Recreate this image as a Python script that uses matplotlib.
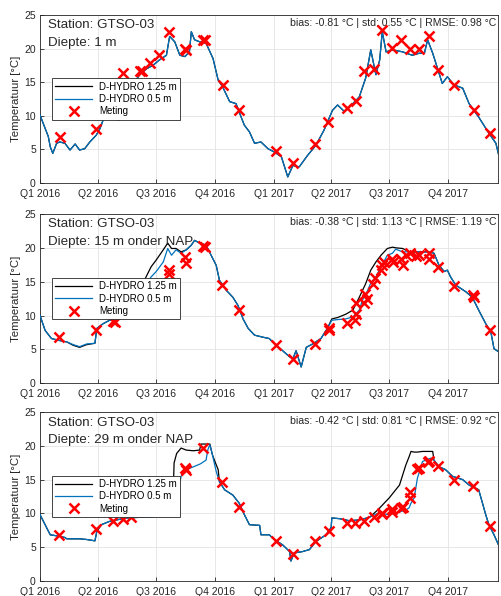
import numpy as np
import pandas as pd
import matplotlib
matplotlib.use('Agg')
import matplotlib.pyplot as plt

plt.rcParams['font.family'] = ['Liberation Sans', 'DejaVu Sans']

START = pd.Timestamp('2016-01-01')

quarter_ticks = ['2016-01-01', '2016-04-01', '2016-07-01', '2016-10-01',
                 '2017-01-01', '2017-04-01', '2017-07-01', '2017-10-01']
quarter_labels = ['Q1 2016', 'Q2 2016', 'Q3 2016', 'Q4 2016',
                  'Q1 2017', 'Q2 2017', 'Q3 2017', 'Q4 2017']

station = 'GTSO-03'
depths = ['1 m', '15 m onder NAP', '29 m onder NAP']
stats = [(-0.81, 0.55, 0.98), (-0.38, 1.13, 1.19), (-0.42, 0.81, 0.92)]

# --- panel 1: 1 m (both model runs overlap) ---
p1_days = [0, 13, 16, 20, 26, 31, 39, 47, 55, 62, 70, 78, 88, 94, 99, 109, 123, 135, 143,
           156, 167, 177, 187, 198, 203, 211, 219, 227, 234, 237, 242, 250, 260, 271, 279,
           286, 297, 307, 315, 320, 328, 336, 346, 357, 367, 378, 388, 396, 406, 419, 432,
           445, 458, 466, 477, 490, 500, 510, 518, 526, 532, 536, 542, 552, 568, 583, 594,
           602, 607, 615, 625, 630, 638, 648, 662, 672, 687, 703, 714, 719]
p1_05 = [10.1, 6.9, 5.4, 4.4, 5.9, 6.1, 5.9, 4.9, 5.8, 4.9, 5.1, 6.1, 7.1, 8.1, 9.4, 10.1,
         9.3, 10.8, 14.3, 16.1, 17.0, 17.5, 18.3, 19.0, 21.8, 21.0, 19.0, 18.8, 19.5, 22.5,
         21.3, 21.0, 20.8, 18.5, 15.3, 14.3, 12.1, 11.8, 9.8, 8.6, 7.6, 5.9, 6.1, 5.1, 4.6,
         3.9, 0.9, 2.6, 2.4, 4.1, 5.6, 7.9, 10.8, 11.6, 10.6, 11.8, 12.8, 15.6, 19.8, 16.1,
         18.3, 22.5, 19.5, 19.8, 19.5, 19.0, 19.3, 19.3, 21.3, 19.3, 16.3, 14.8, 15.8, 14.6,
         14.1, 11.8, 9.8, 7.4, 5.9, 3.9]
p1_125 = list(p1_05)
p1_meas_days = [31, 88, 130, 156, 159, 173, 187, 202, 227, 229, 255, 258, 286, 312,
                369, 396, 430, 451, 480, 495, 508, 523, 536, 551, 566, 580, 593, 609,
                623, 648, 680, 704]
p1_meas = [6.9, 8.0, 16.4, 16.6, 16.7, 17.8, 19.1, 22.4, 19.9, 19.8, 21.3, 21.2, 14.6, 10.8,
           4.8, 2.9, 5.8, 9.0, 11.2, 12.2, 16.7, 17.0, 22.8, 20.1, 21.3, 20.0, 20.0, 21.9,
           16.8, 14.5, 10.9, 7.5]

# --- panel 2: 15 m onder NAP ---
p2_days = [0, 8, 18, 31, 42, 52, 62, 73, 86, 89, 99, 109, 125, 140, 160, 165, 174, 182,
           193, 200, 206, 213, 221, 229, 237, 242, 250, 260, 268, 276, 281, 292, 302, 310,
           318, 326, 336, 349, 359, 370, 380, 391, 396, 401, 409, 417, 427, 440, 450, 457,
           466, 479, 490, 500, 505, 510, 518, 526, 534, 544, 552, 557, 568, 578, 589, 599,
           609, 617, 625, 633, 638, 643, 651, 667, 677, 687, 698, 706, 711, 719]
p2_05 = [10.0, 7.8, 6.6, 6.3, 6.1, 5.7, 5.4, 5.8, 5.9, 8.1, 8.8, 9.3, 9.5, 10.5, 12.5,
         14.5, 15.7, 16.5, 17.9, 19.9, 18.9, 19.7, 19.2, 19.7, 20.4, 21.1, 20.7, 20.4, 18.9,
         17.4, 15.2, 13.7, 12.7, 11.5, 9.5, 8.1, 7.1, 6.8, 6.6, 5.6, 4.8, 3.9, 3.6, 4.8, 2.4,
         5.3, 5.8, 6.6, 8.1, 9.3, 9.4, 9.5, 9.8, 10.8, 12.3, 13.0, 14.8, 15.7, 17.2, 18.9,
         19.2, 19.8, 19.4, 19.4, 19.4, 19.4, 19.4, 19.2, 17.4, 16.5, 16.7, 15.7, 14.5, 13.5,
         12.7, 10.8, 8.8, 7.6, 5.1, 4.6]
p2_125 = [10.0, 7.8, 6.6, 6.3, 6.1, 5.6, 5.3, 5.7, 5.9, 8.1, 8.8, 9.3, 9.5, 10.5, 13.0,
          15.5, 17.2, 18.2, 19.7, 20.7, 19.9, 19.9, 19.4, 19.7, 20.4, 21.1, 20.7, 20.4, 18.9,
          17.4, 15.2, 13.7, 12.7, 11.5, 9.5, 8.1, 7.1, 6.8, 6.6, 5.6, 4.8, 3.9, 3.6, 4.8, 2.4,
          5.3, 5.8, 6.6, 8.1, 9.5, 9.7, 10.2, 10.8, 12.7, 13.7, 14.7, 16.7, 17.9, 18.9, 19.9,
          20.1, 20.0, 19.9, 19.4, 19.4, 19.4, 19.4, 19.2, 17.4, 16.5, 16.7, 15.7, 14.5, 13.5,
          12.7, 10.8, 8.8, 7.6, 5.1, 4.6]
p2_meas_days = [30, 88, 115, 117, 202, 202, 227, 228, 255, 258, 285, 312,
                369, 396, 431, 452, 453, 480, 494, 495, 495, 508, 509, 512, 522, 525, 534,
                536, 539, 552, 553, 565, 568, 573, 580, 589, 594, 609, 609, 624, 648, 678,
                680, 704]
p2_meas = [6.8, 7.9, 9.2, 9.0, 16.7, 16.2, 18.7, 17.8, 20.3, 20.1, 14.5, 10.8,
           5.7, 3.6, 5.8, 8.2, 7.9, 8.9, 9.4, 10.2, 11.8, 11.8, 13.2, 12.5, 14.7, 15.5, 16.7,
           17.4, 17.9, 18.4, 17.9, 18.4, 17.4, 18.9, 19.2, 18.8, 18.9, 19.2, 18.4, 17.2, 14.3,
           13.1, 12.7, 7.9]

# --- panel 3: 29 m onder NAP ---
p3_days = [0, 8, 16, 29, 39, 42, 62, 73, 86, 89, 96, 109, 135, 156, 177, 200, 208, 210,
           214, 221, 229, 240, 250, 252, 260, 263, 266, 270, 276, 279, 281, 289, 302, 312,
           320, 328, 344, 346, 359, 367, 380, 391, 393, 398, 411, 422, 432, 448, 456, 457,
           469, 484, 500, 516, 529, 547, 563, 573, 578, 581, 586, 591, 599, 612, 615, 617,
           625, 635, 646, 662, 672, 687, 693, 698, 703, 711, 719]
p3_05 = [9.8, 8.3, 6.8, 6.6, 6.4, 6.2, 6.2, 6.1, 5.9, 7.3, 8.3, 8.8, 9.3, 9.4, 9.5, 10.3,
         10.8, 11.0, 12.3, 15.5, 16.5, 16.9, 17.3, 17.4, 17.9, 19.5, 20.2, 18.7, 16.2, 15.3,
         14.7, 13.5, 12.7, 11.5, 9.8, 8.3, 8.2, 6.8, 6.8, 6.1, 5.3, 4.3, 2.9, 4.1, 4.3, 4.6,
         5.8, 6.8, 7.9, 9.3, 9.2, 8.9, 9.0, 9.4, 10.0, 9.8, 10.2, 10.5, 10.8, 11.5, 12.3,
         15.2, 17.7, 18.2, 18.1, 17.9, 16.9, 16.5, 15.5, 15.0, 14.2, 13.5, 11.5, 9.8, 8.3,
         6.8, 5.1]
p3_125 = [9.8, 8.3, 6.8, 6.6, 6.4, 6.2, 6.2, 6.1, 5.9, 7.3, 8.3, 8.8, 9.3, 9.4, 9.5, 10.3,
          11.0, 17.5, 18.9, 19.7, 19.4, 19.3, 19.4, 20.3, 20.3, 20.3, 20.3, 18.7, 17.2, 16.5,
          14.7, 13.5, 12.7, 11.5, 9.8, 8.3, 8.2, 6.8, 6.8, 6.1, 5.3, 4.3, 2.9, 4.1, 4.3, 4.6,
          5.8, 6.8, 7.9, 9.3, 9.2, 8.9, 9.0, 9.4, 10.5, 12.3, 14.2, 17.2, 18.4, 19.2, 19.1,
          19.1, 19.2, 19.2, 19.2, 17.9, 16.9, 16.5, 15.5, 15.0, 14.2, 13.5, 11.5, 9.8, 8.3,
          6.8, 5.1]
p3_meas_days = [30, 88, 115, 130, 143, 227, 229, 255, 285, 312,
                369, 396, 431, 452, 480, 494, 508, 523, 535, 536, 551, 552, 565, 568, 580,
                580, 591, 594, 607, 609, 623, 648, 678, 704]
p3_meas = [6.8, 7.7, 8.9, 9.1, 9.5, 16.7, 16.5, 19.7, 14.6, 10.9,
           5.9, 4.0, 5.9, 7.3, 8.6, 8.6, 8.9, 9.4, 9.9, 10.1, 10.2, 10.7, 10.8, 11.0, 12.3,
           13.2, 16.6, 16.8, 17.6, 17.8, 17.1, 15.0, 14.1, 8.1]

panels = [
    (p1_days, p1_125, p1_05, p1_meas_days, p1_meas),
    (p2_days, p2_125, p2_05, p2_meas_days, p2_meas),
    (p3_days, p3_125, p3_05, p3_meas_days, p3_meas),
]


def to_dates(days):
    return START + pd.to_timedelta(np.array(days, dtype=float), unit='D')


fig = plt.figure(figsize=(5.02, 5.96), dpi=100)
boxes = [(0.0797, 0.693, 0.912, 0.282),
         (0.0797, 0.357, 0.912, 0.284),
         (0.0797, 0.026, 0.912, 0.282)]

for i, (days, v125, v05, mdays, meas) in enumerate(panels):
    ax = fig.add_axes(boxes[i])
    ax.plot(to_dates(days), v125, color='black', lw=0.9, label='D-HYDRO 1.25 m', zorder=2)
    ax.plot(to_dates(days), v05, color='#0072BD', lw=0.9, label='D-HYDRO 0.5 m', zorder=3)
    ax.plot(to_dates(mdays), meas, 'x', color='red', ms=6.5, mew=1.8, label='Meting', zorder=4)

    ax.set_xlim(START, START + pd.Timedelta(days=717))
    ax.set_ylim(0, 25)
    ax.set_yticks([0, 5, 10, 15, 20, 25])
    ax.set_xticks(pd.to_datetime(quarter_ticks))
    ax.set_xticklabels(quarter_labels)
    ax.tick_params(direction='in', length=3, width=0.6, labelsize=7.5, colors='#262626',
                   top=False, right=False)
    ax.tick_params(axis='x', pad=4.5)
    ax.tick_params(axis='y', pad=3)
    ax.grid(True, color='#e3e3e3', lw=0.6)
    ax.set_axisbelow(True)
    for s in ax.spines.values():
        s.set_color('#262626')
        s.set_linewidth(0.6)
    ax.set_ylabel('Temperatuur [°C]', fontsize=8.2, color='#262626', labelpad=2)

    ax.text(0.018, 0.975, f'Station: {station}\nDiepte: {depths[i]}', transform=ax.transAxes,
            ha='left', va='top', fontsize=9.6, linespacing=1.6, color='#262626')
    b, sd, rmse = stats[i]
    ax.text(0.997, 0.98, f'bias: {b:.2f} °C | std: {sd:.2f} °C | RMSE: {rmse:.2f} °C',
            transform=ax.transAxes, ha='right', va='top', fontsize=7.6, color='#262626')

    leg = ax.legend(loc='center left', bbox_to_anchor=(0.015, 0.5), fontsize=7,
                    handlelength=3.8, fancybox=False, framealpha=1, edgecolor='#262626',
                    borderpad=0.35, labelspacing=0.25, handletextpad=0.7)
    leg.get_frame().set_linewidth(0.6)
    leg.set_zorder(5)

fig.savefig('out.png', dpi=100)
